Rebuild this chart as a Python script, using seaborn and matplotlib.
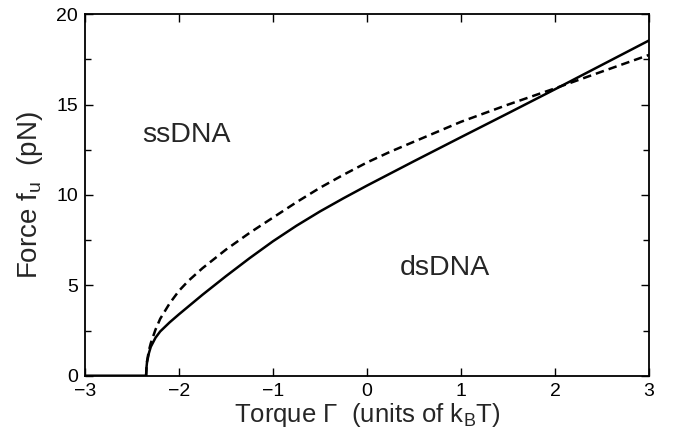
import seaborn as sns
import matplotlib.pyplot as plt
from matplotlib.ticker import MultipleLocator

# solid curve (full line)
torque_solid = [-3.0, -2.35, -2.345, -2.34, -2.32, -2.3, -2.25, -2.2, -2.1, -2.0,
                -1.75, -1.5, -1.25, -1.0, -0.75, -0.5, -0.25, 0.0, 0.5, 1.0,
                1.5, 2.0, 2.5, 3.0]
force_solid = [0.0, 0.0, 0.5, 0.75, 1.25, 1.6, 2.1, 2.45, 2.95, 3.4,
               4.48, 5.51, 6.5, 7.44, 8.3, 9.09, 9.82, 10.52, 11.87, 13.2,
               14.52, 15.85, 17.2, 18.55]

# dashed curve
torque_dashed = [-2.35, -2.345, -2.34, -2.32, -2.3, -2.25, -2.2, -2.1, -2.0, -1.9,
                 -1.75, -1.5, -1.25, -1.0, -0.75, -0.5, -0.25, 0.0, 0.25, 0.5,
                 0.75, 1.0, 1.5, 2.0, 2.5, 3.0]
force_dashed = [0.0, 0.55, 0.8, 1.4, 1.8, 2.55, 3.15, 4.0, 4.7, 5.25,
                5.95, 6.98, 7.9, 8.75, 9.6, 10.4, 11.12, 11.8, 12.4, 12.95,
                13.5, 14.05, 15.0, 15.9, 16.83, 17.75]

x_ticks = [-3, -2, -1, 0, 1, 2, 3]
y_ticks = [0, 5, 10, 15, 20]

sns.set_style("ticks")
plt.rcParams['font.family'] = ['Liberation Sans', 'DejaVu Sans']
plt.rcParams['mathtext.fontset'] = 'custom'
plt.rcParams['mathtext.rm'] = 'Liberation Sans'
plt.rcParams['mathtext.it'] = 'Liberation Sans'

fig = plt.figure(figsize=(6.73, 4.38), dpi=100)
ax = fig.add_axes([0.1263, 0.1422, 0.838, 0.8252])

sns.lineplot(x=torque_solid, y=force_solid, ax=ax, color='black', lw=1.8)
sns.lineplot(x=torque_dashed, y=force_dashed, ax=ax, color='black', lw=1.8)
ax.lines[-1].set_linestyle((0, (3.4, 2.0)))

ax.set_xlim(-3, 3)
ax.set_ylim(0, 20)
ax.set_xticks(x_ticks)
ax.set_yticks(y_ticks)
ax.set_xticklabels(['\u2212' + str(-t) if t < 0 else str(t) for t in x_ticks])
ax.yaxis.set_minor_locator(MultipleLocator(2.5))
ax.tick_params(which='both', direction='in', top=True, right=True,
               labelsize=14, width=1, pad=5, colors='black')
ax.tick_params(which='major', length=6)
ax.tick_params(which='minor', length=4)
for s in ax.spines.values():
    s.set_linewidth(1.3)
    s.set_color('black')

ax.set_xlabel(r'Torque $\Gamma$  (units of k$_\mathregular{B}$T)', fontsize=18.5, labelpad=1)
ax.set_ylabel(r'Force f$_\mathregular{u}$  (pN)', fontsize=20, labelpad=8)

ax.text(-2.39, 13.3, 'ssDNA', fontsize=20.5, va='center', ha='left')
ax.text(0.35, 5.96, 'dsDNA', fontsize=20.5, va='center', ha='left')

fig.savefig('out.png', dpi=100)
